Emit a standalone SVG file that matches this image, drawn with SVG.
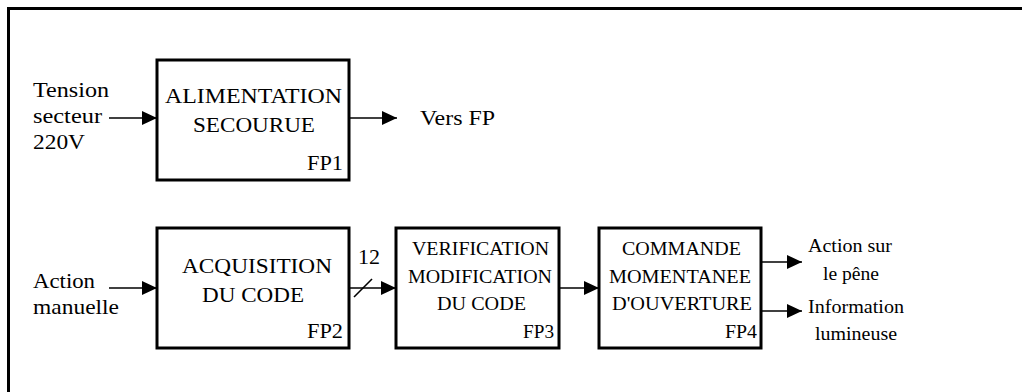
<svg xmlns="http://www.w3.org/2000/svg" width="1022" height="392" viewBox="0 0 1022 392" font-family="'Liberation Serif', 'Times New Roman', Tinos, 'DejaVu Serif', serif">
  <style>
    .box { fill: #fff; stroke: #000; stroke-width: 3; }
    .wire { fill: none; stroke: #000; stroke-width: 1.6; }
    .frame { fill: none; stroke: #000; stroke-width: 3; }
    text { fill: #000; }
    .big { font-size: 21px; }
    .small { font-size: 18.5px; }
    .c { text-anchor: middle; }
    .r { text-anchor: end; }
  </style>
  <defs>
    <marker id="arrow" markerUnits="userSpaceOnUse" markerWidth="16" markerHeight="14" refX="15" refY="7" orient="auto">
      <path d="M0,0 L15,7 L0,14 Z" fill="#000"/>
    </marker>
  </defs>
  <rect width="1022" height="392" fill="#fff"/>
  <!-- outer frame: only its top and left edges fall inside the page -->
  <path class="frame" d="M8.5,392 V8.5 H1022"/>

  <g id="connectors">
    <line class="wire" x1="109" y1="118" x2="157" y2="118" marker-end="url(#arrow)"/>
    <line class="wire" x1="349" y1="118" x2="397" y2="118" marker-end="url(#arrow)"/>
    <line class="wire" x1="109" y1="288" x2="157" y2="288" marker-end="url(#arrow)"/>
    <line class="wire" x1="349" y1="288" x2="396" y2="288" marker-end="url(#arrow)"/>
    <!-- bus width mark -->
    <line class="wire" x1="354" y1="297" x2="372" y2="279"/>
    <text class="big" x="358" y="264" textLength="22" lengthAdjust="spacingAndGlyphs">12</text>
    <line class="wire" x1="559" y1="288" x2="599" y2="288" marker-end="url(#arrow)"/>
    <line class="wire" x1="761" y1="262" x2="802" y2="262" marker-end="url(#arrow)"/>
    <line class="wire" x1="761" y1="311" x2="802" y2="311" marker-end="url(#arrow)"/>
  </g>

  <g id="in-tension" class="big">
    <text x="33" y="97" textLength="76" lengthAdjust="spacingAndGlyphs">Tension</text>
    <text x="33" y="123" textLength="69" lengthAdjust="spacingAndGlyphs">secteur</text>
    <text x="33" y="149" textLength="52" lengthAdjust="spacingAndGlyphs">220V</text>
  </g>
  <g id="out-vers-fp" class="big">
    <text x="420" y="125" textLength="75" lengthAdjust="spacingAndGlyphs">Vers FP</text>
  </g>
  <g id="in-action" class="big">
    <text x="33" y="288" textLength="62" lengthAdjust="spacingAndGlyphs">Action</text>
    <text x="33" y="314" textLength="86" lengthAdjust="spacingAndGlyphs">manuelle</text>
  </g>
  <g id="out-pene" class="small">
    <text x="808" y="252" textLength="84" lengthAdjust="spacingAndGlyphs">Action sur</text>
    <text x="823" y="280" textLength="56" lengthAdjust="spacingAndGlyphs">le pêne</text>
  </g>
  <g id="out-info" class="small">
    <text x="808" y="313" textLength="96" lengthAdjust="spacingAndGlyphs">Information</text>
    <text x="815" y="340" textLength="82" lengthAdjust="spacingAndGlyphs">lumineuse</text>
  </g>

  <g id="fp1" class="big">
    <rect class="box" x="157" y="60" width="192" height="120"/>
    <text x="165" y="103" textLength="177" lengthAdjust="spacingAndGlyphs">ALIMENTATION</text>
    <text x="193" y="132" textLength="122" lengthAdjust="spacingAndGlyphs">SECOURUE</text>
    <text x="307" y="170" textLength="36" lengthAdjust="spacingAndGlyphs">FP1</text>
  </g>
  <g id="fp2" class="big">
    <rect class="box" x="157" y="228" width="192" height="120"/>
    <text x="182" y="273" textLength="150" lengthAdjust="spacingAndGlyphs">ACQUISITION</text>
    <text x="202" y="302" textLength="102" lengthAdjust="spacingAndGlyphs">DU CODE</text>
    <text x="307" y="338" textLength="36" lengthAdjust="spacingAndGlyphs">FP2</text>
  </g>
  <g id="fp3" class="small">
    <rect class="box" x="396" y="228" width="163" height="120"/>
    <text x="412" y="255" textLength="137" lengthAdjust="spacingAndGlyphs">VERIFICATION</text>
    <text x="408" y="283" textLength="144" lengthAdjust="spacingAndGlyphs">MODIFICATION</text>
    <text x="437" y="310" textLength="89" lengthAdjust="spacingAndGlyphs">DU CODE</text>
    <text x="523" y="338" textLength="31" lengthAdjust="spacingAndGlyphs">FP3</text>
  </g>
  <g id="fp4" class="small">
    <rect class="box" x="599" y="228" width="162" height="120"/>
    <text x="622" y="255" textLength="119" lengthAdjust="spacingAndGlyphs">COMMANDE</text>
    <text x="609" y="283" textLength="142" lengthAdjust="spacingAndGlyphs">MOMENTANEE</text>
    <text x="612" y="310" textLength="140" lengthAdjust="spacingAndGlyphs">D'OUVERTURE</text>
    <text x="725" y="338" textLength="32" lengthAdjust="spacingAndGlyphs">FP4</text>
  </g>
</svg>
